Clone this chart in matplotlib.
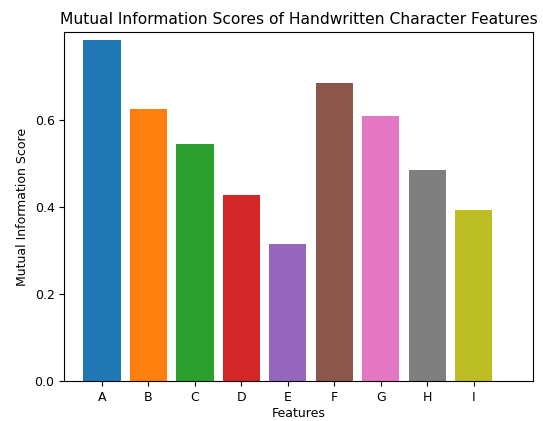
import matplotlib
matplotlib.use("Agg")
import matplotlib.pyplot as plt

# Feature names and their mutual information scores
features = ["A", "B", "C", "D", "E", "F", "G", "H", "I"]
scores = [0.783, 0.625, 0.543, 0.428, 0.314, 0.684, 0.607, 0.484, 0.392]
colors = ["#1f77b4", "#ff7f0e", "#2ca02c", "#d62728", "#9467bd",
          "#8c564b", "#e377c2", "#7f7f7f", "#bcbd22"]

fig = plt.figure(figsize=(5.43, 4.21), dpi=100)
ax = fig.add_axes([0.1184, 0.0943, 0.8638, 0.829])

ax.bar(features, scores, color=colors, width=0.8)
ax.set_xlim(-0.81, 9.28)
ax.set_ylim(0, 0.80)
ax.set_yticks([0.0, 0.2, 0.4, 0.6])

ax.set_title("Mutual Information Scores of Handwritten Character Features", fontsize=11.2)
ax.set_xlabel("Features", fontsize=9, labelpad=2)
ax.set_ylabel("Mutual Information Score", fontsize=9)
ax.tick_params(labelsize=9)

fig.savefig("out.png", dpi=100)
